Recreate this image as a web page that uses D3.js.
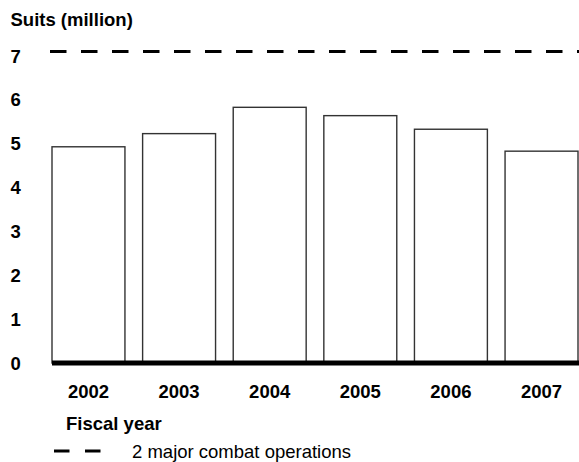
<!DOCTYPE html>
<html>
<head>
<meta charset="utf-8">
<script src="https://cdn.jsdelivr.net/npm/d3@7"></script>
<style>
  body { margin: 0; background: #fff; }
  svg { display: block; font-family: "Liberation Sans", Arial, Helvetica, sans-serif; }
  .lbl { font-weight: bold; font-size: 18.5px; fill: #000; }
</style>
</head>
<body>
<svg id="chart" width="579" height="462"></svg>
<script>
// chart values
var years = ["2002", "2003", "2004", "2005", "2006", "2007"];
var suits = [4.93, 5.23, 5.83, 5.64, 5.33, 4.83];
var y_ticks = [0, 1, 2, 3, 4, 5, 6, 7];
var requirement = 7.1; // 2 major combat operations

var svg = d3.select("#chart");

var y = d3.scaleLinear().domain([0, 7]).range([363, 56]);

var x = d3.scaleBand().domain(years).range([52, 578])
    .paddingInner(0.195).paddingOuter(0);

// y tick labels
svg.append("g").selectAll("text")
    .data(y_ticks)
    .join("text")
    .attr("class", "lbl")
    .attr("x", 10.5)
    .attr("y", d => y(d))
    .attr("dominant-baseline", "central")
    .text(d => d);

svg.append("text")
    .attr("class", "lbl")
    .attr("x", 10.5)
    .attr("y", 25.5)
    .text("Suits (million)");

// bars
svg.append("g").selectAll("rect")
    .data(years)
    .join("rect")
    .attr("x", d => x(d))
    .attr("y", (d, i) => y(suits[i]))
    .attr("width", x.bandwidth())
    .attr("height", (d, i) => y(0) - y(suits[i]))
    .attr("fill", "#fff")
    .attr("stroke", "#333")
    .attr("stroke-width", 1.4);

// baseline
svg.append("line")
    .attr("x1", 52).attr("x2", 579)
    .attr("y1", y(0)).attr("y2", y(0))
    .attr("stroke", "#000")
    .attr("stroke-width", 5);

// requirement line
svg.append("line")
    .attr("x1", 50).attr("x2", 579)
    .attr("y1", y(requirement)).attr("y2", y(requirement))
    .attr("stroke", "#000")
    .attr("stroke-width", 3)
    .attr("stroke-dasharray", "16.5,14.5");

// year labels
svg.append("g").selectAll("text")
    .data(years)
    .join("text")
    .attr("class", "lbl")
    .attr("x", d => x(d) + x.bandwidth() / 2)
    .attr("y", 398)
    .attr("text-anchor", "middle")
    .text(d => d);

svg.append("text")
    .attr("class", "lbl")
    .attr("x", 66)
    .attr("y", 430)
    .text("Fiscal year");

// legend
svg.append("line")
    .attr("x1", 54).attr("x2", 101)
    .attr("y1", 451).attr("y2", 451)
    .attr("stroke", "#000")
    .attr("stroke-width", 3)
    .attr("stroke-dasharray", "15.5,15.5");

svg.append("text")
    .attr("x", 132)
    .attr("y", 457.5)
    .attr("font-size", "18.5px")
    .attr("fill", "#000")
    .text("2 major combat operations");
</script>
</body>
</html>
